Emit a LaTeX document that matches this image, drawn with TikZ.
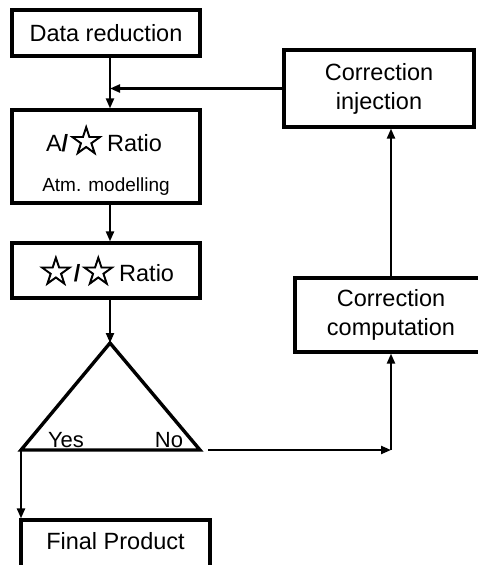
\documentclass[tikz,border=0pt]{standalone}
\usepackage{fontspec}
\setmainfont{Liberation Sans}
\newfontfamily\djv[FakeBold=2]{DejaVu Sans}
\usetikzlibrary{arrows.meta,calc}
\newcommand{\wstar}{{\djv\fontsize{40}{40}\selectfont\raisebox{-3pt}{☆}}}
\begin{document}
\begin{tikzpicture}[x=1pt,y=-1pt,
  box/.style={draw,line width=3.2pt,minimum width=188pt,inner sep=0pt,
              font=\fontsize{23.5}{29}\selectfont,align=center},
  lbl/.style={inner sep=0pt,font=\fontsize{23.5}{29}\selectfont},
  arr/.style={line width=2.2pt,-{Triangle[length=10pt,width=8pt]}}]
\useasboundingbox (0,0) rectangle (478,565);

% boxes
\node[box,minimum height=46pt] (dr) at (106,33) {Data reduction};
\node[box,minimum height=93pt] (r1) at (106,156.5) {};
\node[lbl] (r1a) at (104,140) {A\textbf{/}\wstar\hspace{3pt}Ratio};
\node[lbl,font=\fontsize{19}{22}\selectfont] (r1b) at (106,187) {Atm. modelling};
\node[box,minimum height=55pt] (r2) at (106,270.5) {\wstar\textbf{/}\wstar\hspace{3pt}Ratio};
\node[box,minimum width=189pt,minimum height=60pt] (fp) at (115.5,550) {};
\node[lbl] (fpt) at (115.5,541) {Final Product};
\node[box,minimum width=190pt,minimum height=77pt] (inj) at (379,88.5) {Correction\\injection};
\node[box,minimum width=192pt,minimum height=74pt] (comp) at (391,315) {Correction\\computation};

% decision triangle
\coordinate (apex) at (110,343);
\coordinate (bl) at (21,450);
\coordinate (br) at (200,450);
\draw[line width=3.4pt,line join=miter] (bl) -- (apex) -- (br) -- cycle;
\node[lbl,anchor=base,font=\fontsize{22}{26}\selectfont] (yes) at (66,447) {Yes};
\node[lbl,anchor=base,font=\fontsize{22}{26}\selectfont] (no) at (169,447) {No};

% connectors
\draw[arr] (dr.south -| apex) -- (r1.north -| apex);
\draw[arr] (inj.west) -- (inj.west -| apex);
\draw[arr] (r1.south -| apex) -- (r2.north -| apex);
\draw[arr] (r2.south -| apex) -- (apex);
\draw[arr] (bl) -- (bl |- fp.north);
\coordinate (nos) at (208,450);
\coordinate (corner) at (comp.south |- br);
\draw[arr] (nos) -- (corner);
\draw[arr] (corner) -- (comp.south);
\draw[arr] (comp.north) -- (comp.north |- inj.south);
\end{tikzpicture}
\end{document}
